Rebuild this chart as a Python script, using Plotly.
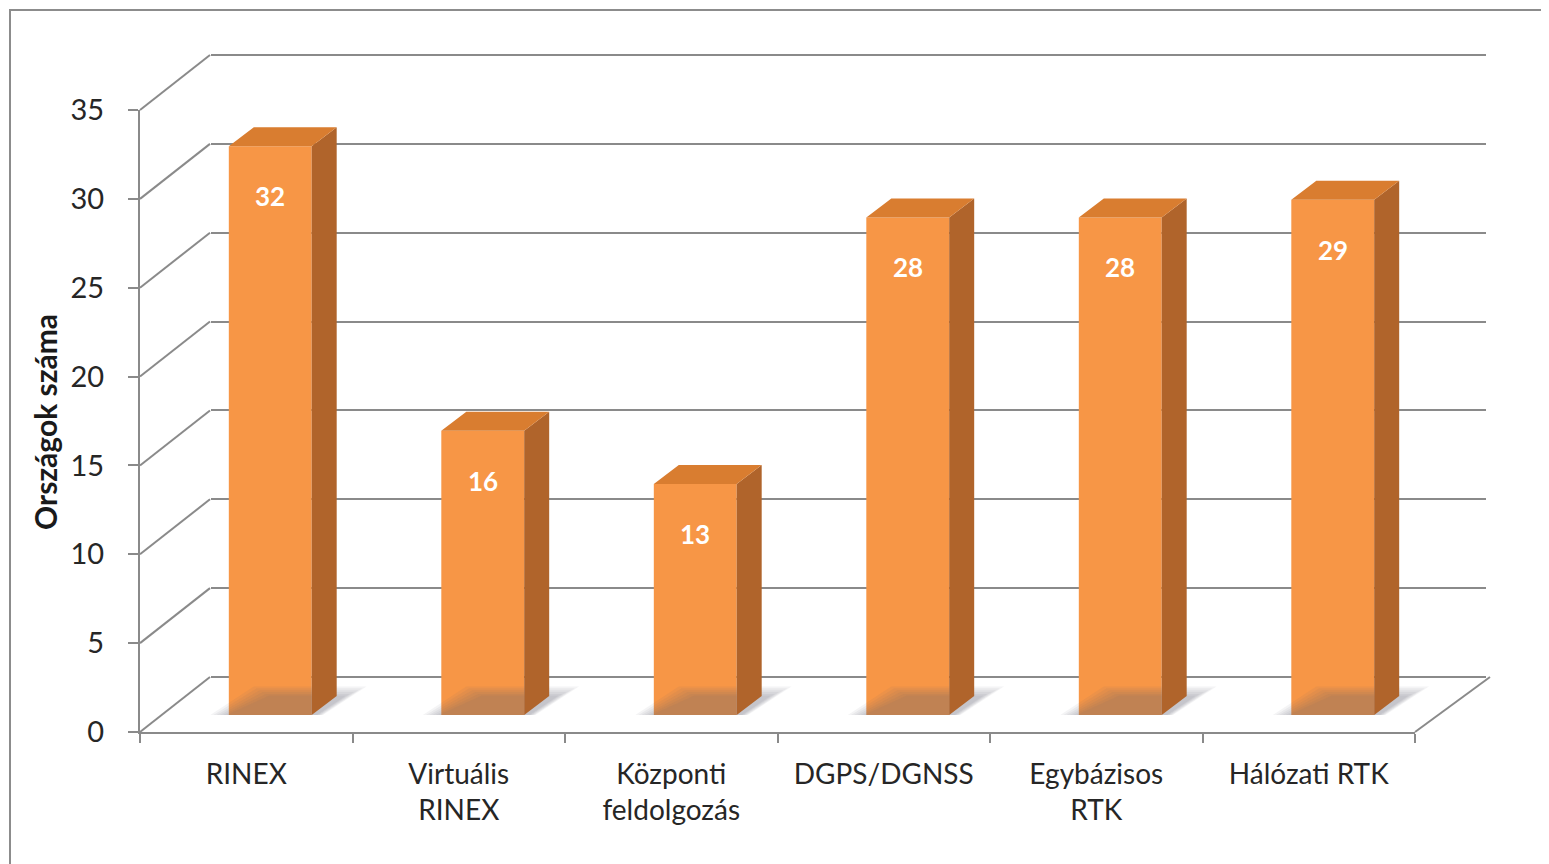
import numpy as np
import plotly.graph_objects as go

W, H = 1549, 864
OFF = 8  # page body margin in the browser

categories = ["RINEX", "Virtuális<br>RINEX", "Központi<br>feldolgozás",
              "DGPS/DGNSS", "Egybázisos<br>RTK", "Hálózati RTK"]
values = [32, 16, 13, 28, 28, 29]
y_ticks = [0, 5, 10, 15, 20, 25, 30, 35]
Y_MAX = 35

FONT = "Lato"
GRID = "#8a8a8a"
FRONT = "#F79646"
TOP = "#D97D30"
SIDE = "#B0642B"

# pseudo 3D geometry (screen pixels)
PX = 622 / 35            # pixels per unit on value axis
CAT = 1275 / 6           # pixels per category
Y0_FRONT, X0_FRONT = 732, 140
BAR_SHIFT = (24, 17)     # bar front face offset from front plane
WALL_SHIFT = (70, 55)    # back wall offset
BAR_W = 0.39
DEPTH = (25, 19)         # bar depth in pixels


def px_x(sx):
    return (sx - OFF) / W


def px_y(sy):
    return 1 - (sy - OFF) / H


def xdom(x0):
    return [px_x(x0), px_x(x0 + 1275)]


def ydom(y0, lo, hi):
    return [px_y(y0 - lo * PX), px_y(y0 - hi * PX)]


x = np.arange(len(values))
dx = DEPTH[0] / CAT
dy = DEPTH[1] / PX

fig = go.Figure()

# empty trace so the back wall subplot is drawn
fig.add_trace(go.Scatter(x=[0], y=[None], mode="markers", xaxis="x", yaxis="y",
                         showlegend=False, hoverinfo="skip"))

# soft floor shadows
for k in np.linspace(1.0, 0.3, 6):
    sx, sy = [], []
    for xi in x:
        l = xi - BAR_W / 2 - 0.1 * k
        r = xi + BAR_W / 2 + 0.04 * k
        top = dy * (0.8 + 0.7 * k)
        sx += [l, r, r + dx + 0.1 * k, l + dx + 0.1, None]
        sy += [-0.1, -0.1, top, top, None]
    fig.add_trace(go.Scatter(x=sx, y=sy, fill="toself", mode="none",
                             fillcolor="rgba(95,105,120,0.07)",
                             xaxis="x3", yaxis="y3", hoverinfo="skip", showlegend=False))

fig.add_trace(go.Bar(x=x, y=values, width=BAR_W, marker_color=FRONT,
                     marker_line_width=0, xaxis="x3", yaxis="y3", showlegend=False))

# side and top faces
side_x, side_y, top_x, top_y = [], [], [], []
for xi, v in zip(x, values):
    r = xi + BAR_W / 2
    l = xi - BAR_W / 2
    side_x += [r, r + dx, r + dx, r, None]
    side_y += [0, dy, v + dy, v, None]
    top_x += [l, r, r + dx, l + dx, None]
    top_y += [v, v, v + dy, v + dy, None]
fig.add_trace(go.Scatter(x=side_x, y=side_y, fill="toself", mode="none", fillcolor=SIDE,
                         xaxis="x3", yaxis="y3", hoverinfo="skip", showlegend=False))
fig.add_trace(go.Scatter(x=top_x, y=top_y, fill="toself", mode="none", fillcolor=TOP,
                         xaxis="x3", yaxis="y3", hoverinfo="skip", showlegend=False))

# invisible trace so the front category axis is drawn
fig.add_trace(go.Scatter(x=categories, y=[None] * len(categories), mode="markers",
                         xaxis="x2", yaxis="y2", showlegend=False, hoverinfo="skip"))

for xi, v in zip(x, values):
    fig.add_annotation(x=xi, y=v, xref="x3", yref="y3", text=f"<b>{v}</b>", showarrow=False,
                       yshift=-50, font=dict(family=FONT, size=26, color="white"))

fig.add_annotation(x=px_x(45), y=px_y(422), xref="paper", yref="paper", textangle=-90,
                   xanchor="center", yanchor="middle",
                   text="<b>Országok száma</b>", showarrow=False,
                   font=dict(family=FONT, size=30, color="#1a1a1a"))

shapes = []
for v in y_ticks:
    shapes.append(dict(type="line", xref="x2 domain", yref="y2 domain", xsizemode="pixel",
                       ysizemode="pixel", xanchor=0, yanchor=v / Y_MAX, x0=0, y0=0,
                       x1=WALL_SHIFT[0], y1=WALL_SHIFT[1], line=dict(color=GRID, width=2),
                       layer="below"))
shapes.append(dict(type="line", xref="x2 domain", yref="y2 domain", xsizemode="pixel",
                   ysizemode="pixel", xanchor=1, yanchor=0, x0=0, y0=0,
                   x1=WALL_SHIFT[0] + 5, y1=WALL_SHIFT[1], line=dict(color=GRID, width=2),
                   layer="below"))
shapes.append(dict(type="rect", xref="paper", yref="paper", x0=px_x(10), y0=-0.02,
                   x1=1.02, y1=px_y(10), line=dict(color="#8c8c8c", width=2)))

fig.update_layout(
    width=W, height=H, margin=dict(l=0, r=0, t=0, b=0, autoexpand=False),
    paper_bgcolor="white", plot_bgcolor="rgba(0,0,0,0)",
    font=dict(family=FONT, size=28, color="#262626"),
    shapes=shapes,
    # back wall
    xaxis=dict(domain=xdom(X0_FRONT + WALL_SHIFT[0] + 1), range=[-0.5, 5.5],
               showticklabels=False, showgrid=False, zeroline=False, showline=False,
               ticks="", anchor="y", automargin=False),
    yaxis=dict(domain=ydom(Y0_FRONT - WALL_SHIFT[1], -0.5, Y_MAX + 0.5),
               range=[-0.5, Y_MAX + 0.5],
               tickvals=y_ticks, showticklabels=False, showgrid=True, gridcolor=GRID,
               gridwidth=2, zeroline=False, ticks="", anchor="x", automargin=False),
    # front plane with labels
    xaxis2=dict(domain=xdom(X0_FRONT), type="category", range=[-0.5, 5.5], anchor="y2",
                showline=True, linecolor=GRID, linewidth=2, ticks="outside",
                tickson="boundaries", ticklen=9, tickcolor=GRID, tickwidth=2,
                showgrid=False, automargin=False, ticklabelstandoff=16,
                tickfont=dict(family=FONT, size=28, color="#262626")),
    yaxis2=dict(domain=ydom(Y0_FRONT, 0, Y_MAX), range=[0, Y_MAX], anchor="x2",
                tickvals=y_ticks, showline=True, linecolor=GRID, linewidth=2,
                ticks="outside", ticklen=10, tickcolor=GRID, tickwidth=2, showgrid=False,
                zeroline=False, automargin=False, ticklabelstandoff=18,
                tickfont=dict(family=FONT, size=29, color="#262626")),
    # bars
    xaxis3=dict(domain=xdom(X0_FRONT + BAR_SHIFT[0]), range=[-0.5, 5.5], visible=False,
                anchor="y3", automargin=False),
    yaxis3=dict(domain=ydom(Y0_FRONT - BAR_SHIFT[1], 0, Y_MAX), range=[0, Y_MAX],
                visible=False, anchor="x3", automargin=False),
)

fig.write_html("out.html")
